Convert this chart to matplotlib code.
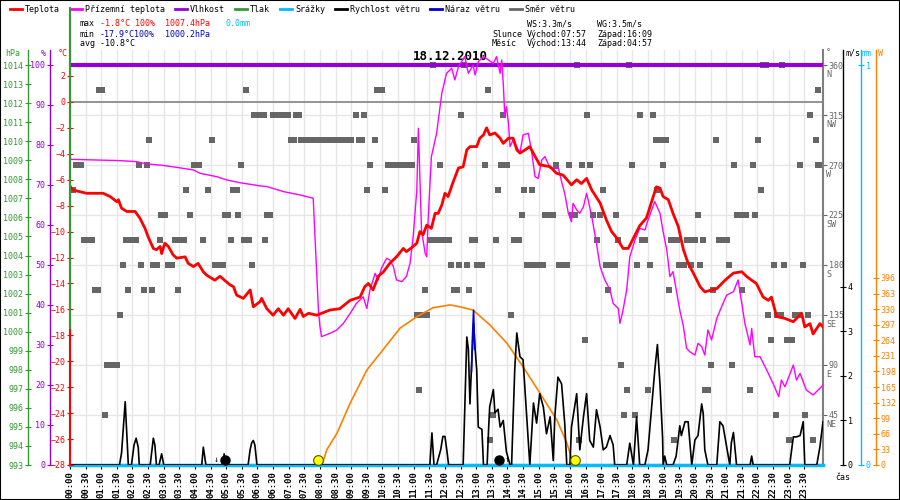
""" Weather station day chart 18.12.2010 with Matplotlib """

# Imports
import matplotlib
matplotlib.use("Agg")
import matplotlib.pyplot as plt
from matplotlib.lines import Line2D
from matplotlib.patches import Rectangle

plt.rcParams["font.family"] = ["DejaVu Sans Mono", "DejaVu Sans"]
plt.rcParams["font.size"] = 6

# ---- data, time in minutes after midnight ----
temp_time = [0, 6, 32, 64, 77, 90, 93, 99, 109, 125, 134, 144, 150, 160, 166, 173, 176,
             182, 189, 198, 205, 221, 227, 237, 246, 256, 262, 278, 288, 307, 314, 320,
             333, 346, 352, 365, 368, 378, 390, 400, 410, 419, 432, 442, 448, 458, 474,
             499, 518, 538, 557, 566, 573, 582, 592, 602, 614, 627, 640, 646, 659, 666,
             672, 678, 685, 694, 701, 707, 714, 720, 726, 736, 746, 755, 762, 768, 781,
             787, 794, 800, 806, 816, 826, 832, 842, 851, 858, 864, 874, 883, 893, 902,
             922, 934, 947, 963, 973, 982, 992, 1002, 1018, 1030, 1040, 1050, 1062, 1072,
             1082, 1094, 1107, 1120, 1126, 1133, 1139, 1149, 1158, 1168, 1178, 1187, 1197,
             1210, 1219, 1242, 1258, 1274, 1290, 1299, 1309, 1318, 1331, 1341, 1347, 1357,
             1373, 1389, 1405, 1411, 1421, 1427, 1440, 1446]
temp_c = [-6.5, -6.8, -7.05, -7.05, -7.3, -7.7, -7.55, -8.2, -8.45, -8.45, -8.95, -9.75,
          -10.4, -11.3, -11.4, -11.15, -11.7, -10.9, -11.15, -11.8, -12.05, -11.95, -12.45,
          -12.7, -12.45, -13.1, -13.35, -13.75, -13.45, -14.1, -14.25, -14.9, -15.15, -14.5,
          -15.8, -15.4, -15.15, -15.95, -16.45, -15.95, -16.45, -15.95, -16.7, -16.0, -16.55,
          -16.3, -16.45, -16.05, -15.95, -15.3, -15.05, -14.25, -14.0, -14.5, -13.45, -13.1,
          -12.45, -11.95, -11.3, -11.55, -11.15, -10.9, -10.0, -10.25, -9.5, -9.75, -8.6,
          -8.6, -7.95, -7.05, -7.3, -6.15, -5.1, -5.0, -3.7, -3.45, -3.45, -2.8, -2.55, -2.0,
          -2.55, -2.4, -2.8, -3.2, -2.8, -2.8, -3.7, -3.95, -3.7, -3.45, -4.2, -4.85, -5.0,
          -5.5, -5.65, -6.4, -6.0, -6.3, -5.9, -6.8, -7.8, -9.1, -10.0, -10.5, -11.3, -11.3,
          -10.5, -9.55, -8.95, -7.3, -6.55, -6.65, -7.3, -7.55, -8.6, -9.6, -11.4, -12.45,
          -13.2, -14.25, -14.65, -14.4, -13.75, -13.2, -13.1, -13.45, -13.75, -14.0, -15.05,
          -15.3, -15.05, -16.55, -16.7, -16.95, -16.3, -17.35, -17.1, -17.9, -17.1, -17.35]

app_time = [0, 45, 96, 128, 147, 173, 205, 237, 250, 282, 301, 326, 365, 378, 410, 442,
            467, 477, 480, 483, 499, 512, 525, 538, 550, 563, 570, 576, 586, 592, 598, 608,
            614, 621, 627, 637, 646, 653, 659, 666, 669, 672, 675, 682, 685, 688, 694, 704,
            714, 720, 723, 733, 739, 746, 758, 765, 774, 778, 784, 794, 813, 819, 826, 829,
            832, 835, 838, 842, 845, 851, 864, 870, 880, 886, 893, 899, 906, 912, 922, 938,
            944, 950, 957, 963, 966, 973, 979, 986, 992, 995, 1002, 1011, 1018, 1027, 1037,
            1043, 1053, 1056, 1062, 1069, 1075, 1085, 1094, 1104, 1110, 1123, 1133, 1139,
            1146, 1152, 1158, 1171, 1178, 1184, 1190, 1200, 1206, 1213, 1219, 1225, 1232,
            1242, 1254, 1261, 1274, 1283, 1290, 1296, 1306, 1309, 1315, 1325, 1338, 1350,
            1361, 1366, 1373, 1389, 1395, 1402, 1414, 1427, 1440, 1446]
app_c = [-4.43, -4.48, -4.53, -4.61, -4.79, -4.87, -5.05, -5.25, -5.51, -5.77, -6.02,
         -6.23, -6.48, -6.53, -6.92, -7.18, -7.43, -16.0, -17.33, -18.1, -17.85, -17.6,
         -17.08, -16.31, -15.54, -15.03, -15.93, -14.5, -13.22, -13.73, -12.83, -12.06,
         -12.19, -12.7, -13.73, -13.86, -13.47, -12.45, -10.39, -6.79, -2.03, -6.02, -9.88,
         -11.68, -11.94, -8.85, -4.22, -2.42, 0.66, 1.69, 2.2, 2.59, 1.69, 2.72, 3.49, 2.2,
         2.84, 2.07, 3.1, 3.49, 2.97, 3.49, 2.2, 3.23, 1.43, -1.14, -0.37, -1.65, -3.45,
         -2.94, -3.96, -2.55, -2.42, -3.71, -5.77, -5.9, -4.48, -4.22, -5.12, -5.12, -6.15,
         -7.05, -8.59, -9.24, -7.82, -8.33, -8.59, -8.08, -7.05, -7.56, -8.85, -10.91,
         -12.7, -13.73, -14.5, -15.54, -15.93, -17.08, -16.06, -14.5, -11.94, -10.65, -9.75,
         -9.88, -9.11, -7.69, -8.59, -10.01, -11.42, -13.47, -13.09, -16.06, -17.33, -19.0,
         -19.26, -19.52, -18.62, -18.87, -19.52, -17.59, -18.36, -16.69, -15.54, -14.9,
         -14.64, -13.73, -15.54, -17.08, -18.75, -17.46, -19.65, -19.65, -20.68, -21.71,
         -22.73, -21.45, -21.97, -20.29, -21.45, -20.94, -22.22, -22.6, -22.09, -21.84]

hum_time = [0, 1446]
hum_pct = [100, 100]

pres_time = [0.6, 0.6]
pres_hpa = [1000.2, 1017.0]

rain_time = [0, 1446]
rain_mm = [0.0, 0.0]

wind_time = [0, 95, 99, 104, 106, 108, 112, 118, 123, 127, 131, 133, 154, 160, 163, 166,
             171, 176, 180, 253, 256, 261, 294, 296, 298, 342, 346, 349, 352, 355, 359,
             691, 695, 699, 704, 712, 716, 720, 724, 727, 755, 762, 765, 768, 771, 775, 778,
             781, 784, 791, 794, 801, 804, 806, 813, 816, 822, 826, 832, 838, 845, 848, 851,
             854, 858, 864, 870, 877, 883, 890, 896, 902, 909, 915, 922, 928, 931, 937, 944,
             950, 954, 960, 963, 973, 979, 986, 992, 998, 1005, 1011, 1018, 1024, 1030,
             1037, 1043, 1046, 1069, 1075, 1082, 1088, 1094, 1104, 1110, 1117, 1123, 1128,
             1133, 1138, 1139, 1142, 1146, 1158, 1164, 1171, 1174, 1181, 1187, 1194, 1200,
             1206, 1213, 1216, 1219, 1225, 1242, 1248, 1254, 1261, 1267, 1270, 1274, 1280,
             1306, 1309, 1312, 1382, 1389, 1395, 1402, 1408, 1411, 1434, 1440, 1446]
wind_ms = [0, 0, 0.27, 1.08, 1.42, 0.94, 0, 0, 0.45, 0.6, 0.4, 0, 0, 0.6, 0.45, 0,
           0, 0.25, 0, 0, 0.4, 0, 0, 0.25, 0, 0, 0.35, 0.5, 0.55, 0.45, 0,
           0, 0.72, 0, 0, 0.35, 0.64, 0.64, 0.3, 0, 0, 2.87, 2.6, 1.37, 2.2, 3.18, 2.6,
           2.13, 0.85, 0.8, 0, 0, 0.85, 1.31, 1.69, 1.17, 1.25, 0.85, 1.0, 0.3, 0, 0, 1.08,
           2.13, 2.96, 2.43, 2.36, 1.08, 0, 1.39, 0.94, 1.6, 1.3, 0.7, 1.08, 0.1, 1.08, 1.97,
           1.82, 0.94, 0, 0, 0.85, 1.6, 0.34, 1.08, 1.6, 0.55, 0.4, 1.24, 0.85, 0.34, 0.4,
           0.66, 0.45, 0, 0, 0.49, 0, 1.08, 0, 0, 0.34, 1.3, 2.13, 2.7,
           1.8, 0.6, 0, 0.2, 0, 0, 0.2, 0.88, 0.66, 0.97, 0.97, 0, 0.56,
           0.66, 1.37, 1.15, 0.34, 0, 0, 0.97, 0.88, 0.4, 0, 0.5, 0.73, 0,
           0, 0.2, 0, 0, 0.63, 0.63, 0.66, 0.97, 0, 0, 0.4, 0.97]

gust_time = [771, 773, 775, 777]
gust_ms = [2.1, 2.9, 3.47, 2.6]

solar_time = [484, 493, 513, 538, 570, 601, 634, 666, 697, 730, 749, 774, 806, 839, 870,
              902, 935, 954, 966, 970]
solar_w = [0, 32, 68, 131, 201, 244, 290, 314, 333, 339, 335, 328, 297, 258, 208, 153, 95,
           47, 4, 0]

sun_time = [477, 969]    # 07:57 rise, 16:09 set
moon_time = [297, 824]   # 04:57 set, 13:44 rise

# wind direction samples (minutes) for each compass point
dir_N = [697, 756, 973, 1073, 1331, 1336, 1367]
dir_NNE = [806, 977, 1160, 1380, 1427]
dir_NE = [67, 812, 1064, 1085, 1356, 1411]
dir_ENE = [670, 1069, 1110, 1219, 1225, 1306]
dir_E = [71, 81, 90, 1058, 1231, 1271]
dir_ESE = [989, 1346, 1377, 1386]
dir_SE = [96, 666, 676, 685, 847, 1340, 1357, 1365, 1392, 1400, 1417]
dir_SSE = [48, 54, 111, 142, 157, 207, 682, 737, 743, 766, 1033, 1150, 1235, 1290]
dir_S = [102, 136, 159, 167, 188, 196, 278, 286, 294, 349, 732, 747, 762, 781, 791, 877,
         885, 893, 900, 908, 939, 947, 954, 1029, 1039, 1046, 1089, 1114, 1169, 1179, 1192,
         1210, 1265, 1352, 1371, 1407]
dir_SSW = [27, 35, 42, 108, 117, 127, 173, 202, 211, 219, 255, 309, 334, 344, 374, 691,
           701, 710, 716, 720, 728, 772, 778, 818, 852, 862, 1012, 1052, 1098, 1104, 1154,
           1165, 1185, 1192, 1200, 1215, 1246, 1254, 1261]
dir_SW = [175, 182, 230, 298, 303, 323, 378, 384, 868, 912, 920, 927, 964, 970, 1004,
          1018, 1048, 1206, 1281, 1286, 1298, 1315]
dir_WSW = [0, 5, 223, 265, 313, 321, 570, 605, 822, 872, 887, 1023, 1127, 1327]
dir_W = [12, 21, 132, 147, 238, 248, 328, 576, 611, 620, 630, 639, 649, 657, 710, 797,
         828, 839, 933, 958, 983, 998, 1079, 1139, 1275, 1311, 1402, 1436, 1444]
dir_WNW = [152, 273, 424, 430, 444, 453, 463, 472, 482, 492, 501, 511, 520, 530, 539, 555,
           561, 586, 660, 1125, 1135, 1144, 1240, 1321, 1432]
dir_NW = [353, 363, 372, 390, 399, 409, 419, 434, 440, 549, 564, 751, 831, 993, 1094, 1119,
          1421]
dir_NNW = [56, 61, 338, 589, 599, 803, 1436]

compass_deg = [360, 22.5, 45, 67.5, 90, 112.5, 135, 157.5, 180, 202.5, 225, 247.5, 270,
               292.5, 315, 337.5]
compass_lists = [dir_N, dir_NNE, dir_NE, dir_ENE, dir_E, dir_ESE, dir_SE, dir_SSE, dir_S,
                 dir_SSW, dir_SW, dir_WSW, dir_W, dir_WNW, dir_NW, dir_NNW]
dir_ticks = [45, 90, 135, 180, 225, 270, 315, 360]
dir_names = ["NE", "E", "SE", "S", "SW", "W", "NW", "N"]

# summary values
day_label = "18.12.2010"

# colours
RED = "#ff0000"
MAG = "#ff00ff"
PUR = "#9400d3"
GRN = "#339933"
CYA = "#00bbff"
BLU = "#0000cc"
GRY = "#666666"
ORA = "#ff8000"

# ---- figure ----
fig = plt.figure(figsize=(9, 5), dpi=100)
L, B, W, H = 70 / 900, 35 / 500, 753 / 900, 415 / 500
PX = 0.72  # points per pixel

ax_d = fig.add_axes([L, B, W, H])
ax_d.set_xlim(0, 1446)
ax_d.set_ylim(0, 373.5)
ax_d.set_xticks(list(range(0, 1411, 30)))
ax_d.set_xticklabels([f"{m // 60:02d}:{m % 60:02d}" for m in range(0, 1411, 30)])
ax_d.tick_params(axis="x", rotation=90, labelsize=6.5, length=3, pad=1.5)
for lbl in ax_d.get_xticklabels():
    lbl.set_fontweight("bold")
ax_d.set_yticks(dir_ticks)
ax_d.set_yticklabels([str(d) for d in dir_ticks])
ax_d.grid(True, color="#e6e6e6", lw=1)
ax_d.set_axisbelow(True)
ax_d.spines["top"].set_visible(False)
ax_d.spines["left"].set_visible(False)
ax_d.spines["right"].set_color("#808080")
ax_d.spines["right"].set_linewidth(1.5)
ax_d.spines["bottom"].set_linewidth(1.5)
for deg, times in zip(compass_deg, compass_lists):
    ax_d.plot(times, [deg] * len(times), "s", color=GRY, ms=3.8, mew=0, zorder=2)
for deg, name in zip(dir_ticks, dir_names):
    ax_d.text(1.004, deg - 8.5, name, transform=ax_d.get_yaxis_transform(),
              color=GRY, fontsize=6, va="center", ha="left")


def twin(color, side, offset_px, lw=1.0):
    a = ax_d.twinx()
    for s in a.spines.values():
        s.set_visible(False)
    a.spines[side].set_visible(True)
    a.spines[side].set_color(color)
    a.spines[side].set_linewidth(lw)
    a.spines[side].set_position(("outward", offset_px * PX))
    if side == "left":
        a.yaxis.tick_left()
    else:
        a.yaxis.tick_right()
    a.tick_params(axis="y", colors=color, direction="inout", length=5, pad=1, labelsize=6)
    return a


# solar radiation
ax_s = twin(ORA, "right", 53)
ax_s.set_ylim(0, 878.8)
ax_s.set_yticks(list(range(0, 397, 33)))
ax_s.plot(solar_time, solar_w, color=ORA, lw=1.2)

# precipitation
ax_r = twin(CYA, "right", 38)
ax_r.set_ylim(0, 1.0375)
ax_r.set_yticks([0, 1])
ax_r.plot(rain_time, rain_mm, color=CYA, lw=2.5, clip_on=False)

# wind speed and gusts
ax_w = twin("black", "right", 20)
ax_w.set_ylim(0, 9.305)
ax_w.set_yticks([0, 1, 2, 3, 4])
ax_w.plot(wind_time, wind_ms, color="black", lw=1.2)
ax_w.plot(gust_time, gust_ms, color=BLU, lw=1.2)
ax_w.plot(sun_time, [0.12] * len(sun_time), "o", ms=7, mfc="#ffff00", mec="#555500",
          mew=0.8, clip_on=False, zorder=5)
ax_w.plot(moon_time, [0.12] * len(moon_time), "o", ms=6.5, color="black", clip_on=False,
          zorder=5)
ax_w.annotate("↓", (moon_time[0], 0.12), xytext=(-6, 0), textcoords="offset points",
              fontsize=6, ha="center", va="center")
ax_w.annotate("↑", (moon_time[1], 0.12), xytext=(6, 0), textcoords="offset points",
              fontsize=6, ha="center", va="center")

# pressure
ax_p = twin(GRN, "left", 42)
ax_p.set_ylim(993, 1014.79)
ax_p.set_yticks(list(range(993, 1015)))
ax_p.plot(pres_time, pres_hpa, color=GRN, lw=1.5, clip_on=False, zorder=6)

# humidity
ax_h = twin(PUR, "left", 20)
ax_h.set_ylim(0, 103.75)
ax_h.set_yticks(list(range(0, 101, 10)))
ax_h.plot(hum_time, hum_pct, color=PUR, lw=3)

# temperature
ax_t = twin(RED, "left", 0, lw=1.5)
ax_t.set_ylim(-28, 4)
ax_t.set_yticks(list(range(-28, 3, 2)))
ax_t.axhline(0, color="#808080", lw=1.2, zorder=1)
ax_t.plot(app_time, app_c, color=MAG, lw=1.0, zorder=2)
ax_t.plot(temp_time, temp_c, color=RED, lw=2.0, zorder=3)

# direction ticks on the right (twinx moved them to the left)
ax_d.yaxis.tick_right()
ax_d.tick_params(axis="y", colors=GRY, length=3, pad=1, labelsize=6)

for z, a in enumerate([ax_d, ax_s, ax_r, ax_w, ax_h, ax_t, ax_p]):
    a.set_zorder(z)
    if a is not ax_d:
        a.patch.set_visible(False)


def ftext(x, y, s, color="black", **kw):
    fig.text(x / 900, 1 - y / 500, s, color=color, va="center", fontsize=6, **kw)


# axis headers
ftext(5, 54, "hPa", GRN)
ftext(41, 54, "%", PUR)
ftext(58, 54, "°C", RED)
ftext(826, 53, "°", GRY)
ftext(845, 53, "m/s")
ftext(862, 53, "mm", CYA)
ftext(878, 53, "W", ORA)
ftext(835, 477, "čas")

# legend row
legend = [("Teplota", RED, 10), ("Přízemní teplota", MAG, 70), ("Vlhkost", PUR, 175),
          ("Tlak", GRN, 235), ("Srážky", CYA, 280), ("Rychlost větru", "black", 335),
          ("Náraz větru", BLU, 430), ("Směr větru", GRY, 510)]
for name, col, x0 in legend:
    fig.add_artist(Line2D([x0 / 900, (x0 + 12) / 900], [1 - 9 / 500] * 2, color=col,
                          lw=2, transform=fig.transFigure))
    ftext(x0 + 15, 9, name)

# statistics
ftext(80, 24, "max")
ftext(100, 24, "-1.8°C 100%", RED)
ftext(165, 24, "1007.4hPa", RED)
ftext(225, 24, "0.0mm", CYA)
ftext(80, 34, "min")
ftext(100, 34, "-17.9°C100%", BLU)
ftext(165, 34, "1000.2hPa", BLU)
ftext(80, 44, "avg -10.8°C")
ftext(527, 24, "WS:3.3m/s")
ftext(597, 24, "WG:3.5m/s")
ftext(492, 34, "Slunce")
ftext(527, 34, "Východ:07:57")
ftext(597, 34, "Západ:16:09")
ftext(492, 44, "Měsíc")
ftext(527, 44, "Východ:13:44")
ftext(597, 44, "Západ:04:57")

fig.text(0.5, 1 - 57 / 500, day_label, ha="center", va="center", fontsize=9,
         fontweight="bold")

fig.add_artist(Rectangle((0, 0), 1, 1, fill=False, ec="black", lw=1.5,
                         transform=fig.transFigure))

fig.savefig("out.png", dpi=100)
